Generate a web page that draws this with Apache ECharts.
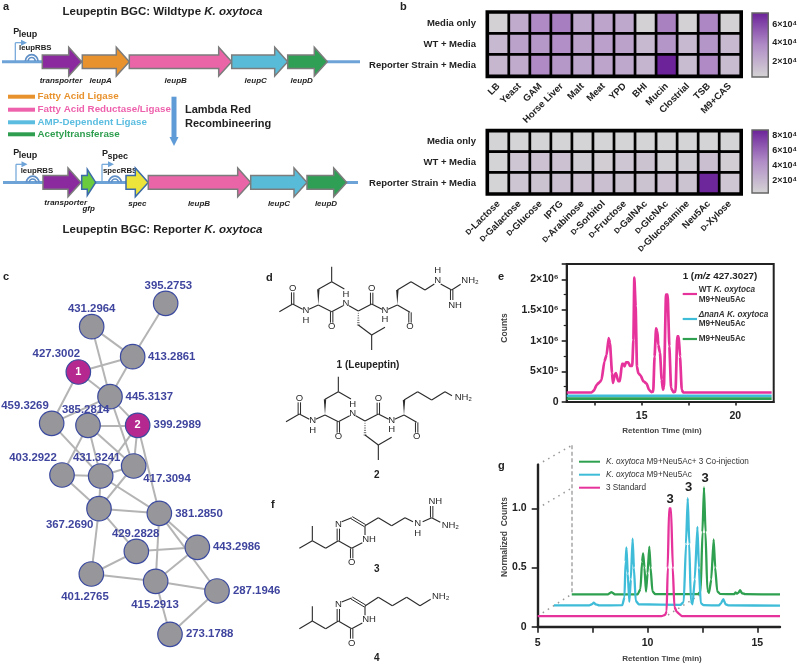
<!DOCTYPE html>
<html><head><meta charset="utf-8">
<script src="https://cdn.jsdelivr.net/npm/echarts@6/dist/echarts.min.js"></script>
<style>html,body{margin:0;padding:0;background:#fff}#c{width:800px;height:667px}</style>
</head><body><div id="c"></div>
<script>
const FONT='"Liberation Sans",Arial,sans-serif';
const DARK='#222';
// ---------- panel b data ----------
const mediaCats=['LB','Yeast','GAM','Horse Liver','Malt','Meat','YPD','BHI','Mucin','Clostrial','TSB','M9+CAS'];
const sugarCats=['D-Lactose','D-Galactose','D-Glucose','IPTG','D-Arabinose','D-Sorbitol','D-Fructose','D-GalNAc','D-GlcNAc','D-Glucosamine','Neu5Ac','D-Xylose'];
const rowNames=['Media only','WT + Media','Reporter Strain + Media'];
const mediaOnly=[5000,23000,38000,42000,24000,26000,24000,5000,41000,5000,39000,5000];
const mediaWT=[16000,27000,32000,36000,27000,28000,27000,16000,33000,16000,33000,16000];
const mediaReporter=[17000,23000,38000,32000,25000,26000,24000,18000,71000,15000,38000,15000];
const sugarOnly=[5000,5000,5000,5000,5000,5000,5000,5000,5000,5000,5000,5000];
const sugarWT=[5000,12000,15000,15000,9000,8000,12000,14000,7000,9000,16000,8000];
const sugarReporter=[5000,13000,14000,16000,15000,16000,14000,14000,15000,14000,85000,12000];
// ---------- panel e data ----------
const eTime=[11,12.33,12.46,12.6,12.78,12.86,13.01,13.13,13.24,13.31,13.42,13.47,13.58,13.63,13.75,13.84,13.95,14.02,14.09,14.16,14.29,14.38,14.5,14.56,14.61,14.68,14.75,14.82,14.95,15.09,15.27,15.39,15.53,15.62,15.69,15.77,15.84,15.89,15.98,16.07,16.14,16.19,16.3,16.39,16.48,16.57,16.69,16.81,16.9,16.98,17.05,17.14,17.22,21.94];
const eWT=[1.55,1.55,1.9,2.8,3.3,3.6,6.6,7.7,10.4,9.6,4.7,3.1,4.6,4.7,3.4,3.4,6.2,6.2,5.8,6.45,6.45,5.9,5.9,10.1,20.3,15.6,5.8,4.7,4.3,3.4,3.0,2.0,1.6,1.7,7.4,12.0,11.5,9.3,8.0,3.6,2.0,2.5,17.5,17.5,9.1,2.3,1.6,1.7,10.7,10.7,7.4,2.0,1.55,1.55];
const eDeltaTime=[11,21.94], eDelta=[1.0,1.0];
const eBlankTime=[11,21.94], eBlank=[0.54,0.54];
// ---------- panel g data ----------
const gPinkT=[5,10.64,10.8,10.87,10.92,10.98,11.07,11.15,11.22,11.33,11.56,16.03];
const gPinkV=[.09,.09,.10,.13,.5,1.0,1.0,.5,.17,.125,.09,.09];
const gCyanT=[5.74,7.35,7.47,7.55,7.65,7.8,8.85,8.95,9,9.04,9.1,9.17,9.24,9.32,9.38,9.46,9.6,11.5,11.65,11.75,11.83,11.9,11.97,12.05,12.15,12.27,12.34,12.42,12.55,13.25,13.35,13.45,13.55,13.7,16.03];
const gCyanV=[.18,.18,.19,.203,.188,.18,.182,.25,.55,.67,.45,.21,.4,.744,.5,.22,.19,.185,.21,.7,1.087,.7,.22,.19,.4,.845,.5,.2,.182,.18,.2,.234,.19,.18,.178];
const gGreenT=[6.55,8.2,8.3,8.35,8.42,8.5,9.55,9.68,9.75,9.8,9.86,9.93,10,10.08,10.14,10.22,10.35,12.3,12.42,12.5,12.57,12.64,12.72,12.8,12.9,13.01,13.08,13.17,13.3,13.95,14,14.08,14.15,14.21,14.3,14.45,16.03];
const gGreenV=[.273,.273,.285,.293,.285,.273,.273,.32,.55,.62,.5,.296,.45,.676,.5,.3,.275,.275,.3,.8,1.177,.8,.31,.285,.4,.738,.5,.3,.277,.275,.29,.28,.29,.31,.283,.275,.273];
// ---------- panel c data ----------
const nodeNames=['395.2753','431.2964','413.2861','427.3002','445.3137','459.3269','385.2814','399.2989','403.2922','431.3241','417.3094','367.2690','381.2850','429.2828','443.2986','401.2765','415.2913','287.1946','273.1788'];
const nodeTags={'427.3002':'1','399.2989':'2'};
const edges=[[0,2],[1,2],[1,4],[2,3],[2,4],[3,4],[3,5],[4,5],[4,7],[4,6],[4,10],[5,9],[6,7],[6,8],[6,9],[6,10],[7,9],[7,10],[7,12],[8,9],[8,11],[9,10],[9,11],[9,12],[10,11],[11,12],[11,13],[11,15],[12,16],[12,14],[12,17],[13,14],[13,15],[14,16],[15,16],[16,17],[16,18],[17,18]];
// ---------- panel a data: gene extents along each construct ----------
const geneRows=[
 {name:'transporter',from:42.3,to:81.7,row:0,kind:'purple'},
 {name:'leupA',from:82.3,to:129.3,row:0,kind:'orange'},
 {name:'leupB',from:129.3,to:231.7,row:0,kind:'pink'},
 {name:'leupC',from:231.7,to:287.7,row:0,kind:'cyan'},
 {name:'leupD',from:287.7,to:327.3,row:0,kind:'green'},
 {name:'transporter',from:43,to:81,row:1,kind:'purple'},
 {name:'gfp',from:81.7,to:95.7,row:1,kind:'lime'},
 {name:'spec',from:126,to:148.3,row:1,kind:'yellow'},
 {name:'leupB',from:148.3,to:250.7,row:1,kind:'pink'},
 {name:'leupC',from:250.7,to:307,row:1,kind:'cyan'},
 {name:'leupD',from:307,to:346.7,row:1,kind:'green'}];

// ---------- layout of the network (reference pixels x3) ----------
const nodeXY=[[497,190],[275,260],[398,350],[235,396],[330,470],[155,550],[264,556],[413,556],[186,705],[302,708],[401,678],[297,806],[478,820],[409,934],[592,922],[274,1002],[467,1024],[651,1053],[510,1183]];
const labelXY=[[505,138],[275,206],[515,351],[169,341],[448,470],[75,497],[257,510],[532,555],[99,654],[290,654],[501,716],[209,856],[597,821],[407,883],[710,922],[255,1071],[465,1094],[770,1053],[629,1183]];
const page=p=>[p[0]/3,240+p[1]/3];

const geneFill={purple:'#8b2a9e',orange:'#e8922e',pink:'#e965a8',cyan:'#58bcd9',green:'#2f9f55',lime:'#6bcb3f',yellow:'#ece33b'};
const rowY=[61.7,182.4];

const g=[];
function T(x,y,text,o={}){
  const st={text,fontFamily:FONT,fontSize:o.size||9,fontWeight:o.weight||'normal',fontStyle:o.style||'normal',fill:o.color||DARK,align:o.align||'left',verticalAlign:'middle'};
  if(o.rich)st.rich=o.rich;
  g.push({type:'text',x,y,rotation:o.rot||0,style:st,silent:true});
}
function Line(x1,y1,x2,y2,o={}){
  g.push({type:'line',shape:{x1,y1,x2,y2},style:{stroke:o.color||'#222',lineWidth:o.w||1.2,lineDash:o.dash||null,lineCap:o.cap||'butt'},silent:true});
}
const boldItalic={i:{fontFamily:FONT,fontStyle:'italic',fontWeight:'bold',fontSize:11.5,fill:DARK}};
// panel letters
[['a',3,7],['b',400,7],['c',3,277],['d',266,278],['e',498,277],['f',271,505],['g',498,466]].forEach(r=>T(r[1],r[2],r[0],{size:11,weight:'bold'}));
// panel a
T(62.5,12,'Leupeptin BGC: Wildtype {i|K. oxytoca}',{size:11.5,weight:'bold',rich:boldItalic});
T(62.5,229.5,'Leupeptin BGC: Reporter {i|K. oxytoca}',{size:11.5,weight:'bold',rich:boldItalic});
const BL='#6ea3d8';
Line(2,61.7,360,61.7,{color:BL,w:3});Line(3,182.4,358,182.4,{color:BL,w:3});
function promoter(x,yb,yt,x2){
  Line(x,yb,x,yt,{color:BL,w:1.2});Line(x,yt,x2-5,yt,{color:BL,w:1.2});
  g.push({type:'polygon',shape:{points:[[x2-6,yt-3],[x2,yt],[x2-6,yt+3]]},style:{fill:BL},silent:true});
}
promoter(15.3,61,42.7,27);promoter(16,182,164.3,27.5);promoter(102,182,164.3,114);
function rbs(cx,cy){
  [6.3,3.5].forEach(r=>g.push({type:'arc',shape:{cx,cy,r,startAngle:Math.PI,endAngle:0},style:{stroke:'#5f8fc6',fill:null,lineWidth:1.7},silent:true}));
}
rbs(31.7,61);rbs(32.7,182.5);rbs(115,182.5);
function pLabel(x,y,sub){T(x,y,'P',{size:9,weight:'bold'});T(x+5.5,y+3,sub,{size:9,weight:'bold'});}
pLabel(13.3,32,'leup');pLabel(13.3,153,'leup');pLabel(102,154,'spec');
T(19,48,'leupRBS',{size:7.8,weight:'bold'});T(20.7,170.8,'leupRBS',{size:7.8,weight:'bold'});T(103,170.8,'specRBS',{size:7.8,weight:'bold'});
[['transporter',61,81],['leupA',100.7,81],['leupB',175.7,81],['leupC',255.7,81],['leupD',301.7,81],['transporter',65.7,203],['gfp',88.7,208.3],['spec',137.3,203.3],['leupB',199,203.3],['leupC',279,203.3],['leupD',326,203.3]].forEach(r=>T(r[1],r[2],r[0],{size:8,weight:'bold',style:'italic',align:'center'}));
[['#e8922e','Fatty Acid Ligase',96.7],['#ee62ad','Fatty Acid Reductase/Ligase',109.7],['#5bbde0','AMP-Dependent Ligase',122.3],['#2f9e4f','Acetyltransferase',134.3]].forEach(r=>{Line(8,r[2],35,r[2],{color:r[0],w:4});T(37.5,r[2],r[1],{size:9.8,weight:'bold',color:r[0]});});
T(185,110,'Lambda Red',{size:11,weight:'bold'});T(185,123.8,'Recombineering',{size:11,weight:'bold'});
Line(174,96.7,174,138,{color:'#5f9bd6',w:5});
g.push({type:'polygon',shape:{points:[[169.5,137],[178.5,137],[174,146]]},style:{fill:'#5f9bd6'},silent:true});

// panels d, f : structures
const CB='#2a2a2a';
const pt=(o,x,y)=>[o[0]+x/3,o[1]+y/3];
function B(o,x1,y1,x2,y2){const a=pt(o,x1,y1),b=pt(o,x2,y2);Line(a[0],a[1],b[0],b[1],{color:CB,w:1.1});}
function DB(o,x1,y1,x2,y2){const a=pt(o,x1,y1),b=pt(o,x2,y2),dx=b[0]-a[0],dy=b[1]-a[1],n=Math.hypot(dx,dy),px=-dy/n*1.2,py=dx/n*1.2;Line(a[0]+px,a[1]+py,b[0]+px,b[1]+py,{color:CB,w:1});Line(a[0]-px,a[1]-py,b[0]-px,b[1]-py,{color:CB,w:1});}
function WD(o,x1,y1,x2,y2){const a=pt(o,x1,y1),b=pt(o,x2,y2);g.push({type:'polygon',shape:{points:[a,[b[0]-1.2,b[1]],[b[0]+1.2,b[1]]]},style:{fill:CB},silent:true});}
function HS(o,x1,y1,x2,y2){const a=pt(o,x1,y1),b=pt(o,x2,y2);for(let i=1;i<=6;i++){const t=i/6,h=.3+1.1*t,x=a[0]+(b[0]-a[0])*t,y=a[1]+(b[1]-a[1])*t;Line(x-h,y,x+h,y,{color:CB,w:.7});}}
function AT(o,x,y,s){const a=pt(o,x,y);T(a[0],a[1],s,{size:9.5,align:'center',color:CB});}
function peptide(o,d){
  const [u,v]=d;
  B(o,88+u,215+v,128+u,192+v);DB(o,128+u,192+v,128+u,157+v);AT(o,128+u,145+v,'O');B(o,128+u,192+v,158+u,208+v);
  AT(o,168+u,210+v,'N');AT(o,168+u,240+v,'H');
  B(o,177+u,208+v,205+u,195+v);WD(o,205+u,195+v,205+u,148+v);B(o,205+u,148+v,245+u,125+v);B(o,245+u,125+v,245+u,80+v);B(o,245+u,125+v,283+u,147+v);
  B(o,205+u,195+v,245+u,215+v);DB(o,245+u,215+v,245+u,248+v);AT(o,245+u,260+v,'O');B(o,245+u,215+v,279+u,197+v);
  AT(o,288+u,190+v,'N');AT(o,288+u,162+v,'H');
  B(o,297+u,197+v,325+u,213+v);HS(o,325+u,213+v,325+u,255+v);B(o,325+u,255+v,365+u,285+v);B(o,365+u,285+v,405+u,262+v);B(o,365+u,285+v,365+u,330+v);
  B(o,325+u,213+v,365+u,192+v);DB(o,365+u,192+v,365+u,158+v);AT(o,365+u,145+v,'O');B(o,365+u,192+v,396+u,208+v);
  AT(o,405+u,210+v,'N');AT(o,405+u,238+v,'H');
  B(o,414+u,208+v,442+u,195+v);WD(o,442+u,195+v,442+u,150+v);
  B(o,442+u,195+v,480+u,217+v);DB(o,480+u,217+v,480+u,248+v);AT(o,480+u,260+v,'O');
}
const oD=[250,240];
peptide(oD,[0,0]);
[[442,150,483,125],[483,125,525,150],[525,150,553,132],[572,132,605,150],[605,150,632,133]].forEach(b=>B(oD,...b));
DB(oD,605,150,605,180);AT(oD,563,122,'N');AT(oD,563,92,'H');AT(oD,660,122,'NH₂');AT(oD,615,195,'NH');
peptide(oD,[20,330]);
[[462,480,503,455],[503,455,545,480],[545,480,585,455],[585,455,606,467]].forEach(b=>B(oD,...b));
AT(oD,640,473,'NH₂');
T(368,365.7,'1 (Leupeptin)',{size:10,weight:'bold',align:'center'});
T(376.7,475,'2',{size:10,weight:'bold',align:'center'});
const oF=[260,470];
function pyraz(v){
  [[118,235,157,212],[157,212,157,168],[157,212,197,235],[197,235,235,212],[235,212,275,235],[245,155,275,143],[315,167,315,195],[307,218,275,235]].forEach(b=>B(oF,b[0],b[1]+v,b[2],b[3]+v));
  DB(oF,235,212+v,235,176+v);DB(oF,275,143+v,315,167+v);DB(oF,275,235+v,275,265+v);
  AT(oF,235,162+v,'N');AT(oF,327,208+v,'NH');AT(oF,275,278+v,'O');
}
pyraz(0);pyraz(241);
[[315,167,355,143],[355,143,395,167],[395,167,435,143],[435,143,459,155],[488,155,515,143],[515,143,541,157]].forEach(b=>B(oF,...b));
DB(oF,515,143,515,108);AT(oF,473,160,'N');AT(oF,473,190,'H');AT(oF,526,93,'NH');AT(oF,571,165,'NH₂');
[[315,408,355,382],[355,382,397,407],[397,407,440,382],[440,382,480,407],[480,407,512,388]].forEach(b=>B(oF,...b));
AT(oF,542,378,'NH₂');
T(376.7,569.3,'3',{size:10,weight:'bold',align:'center'});T(376.7,658.3,'4',{size:10,weight:'bold',align:'center'});

// panel e text
T(504.7,328,'Counts',{size:8.5,color:'#444',align:'center',rot:Math.PI/2,weight:'bold'});
T(662,431,'Retention Time (min)',{size:8,weight:'bold',color:'#444',align:'center'});
T(682.7,276,'1 ({i|m/z} 427.3027)',{size:9.8,weight:'bold',rich:{i:{fontFamily:FONT,fontStyle:'italic',fontWeight:'bold',fontSize:9.8,fill:DARK}}});
const lg8={i:{fontFamily:FONT,fontStyle:'italic',fontWeight:'bold',fontSize:8.2,fill:'#333'}};
const E8={size:8.2,weight:'bold',color:'#333',rich:lg8};
Line(682.7,294,697,294,{color:'#e6329b',w:2.2});Line(682.7,319,697,319,{color:'#3fbcd8',w:2.2});Line(682.7,339,697,339,{color:'#2fa04f',w:2.2});
T(698.7,289.3,'WT {i|K. oxytoca}',E8);T(698.7,299.3,'M9+Neu5Ac',E8);
T(698.7,314.3,'{i|ΔnanA K. oxytoca}',E8);T(698.7,323.7,'M9+Neu5Ac',E8);T(698.7,339,'M9+Neu5Ac',E8);
// panel g text
T(505,537,'Normalized  Counts',{size:8.5,color:'#444',align:'center',rot:Math.PI/2,weight:'bold'});
T(662,659,'Retention Time (min)',{size:8,weight:'bold',color:'#444',align:'center'});
Line(579,461.7,600,461.7,{color:'#2fa04f',w:2});Line(579,474.7,600,474.7,{color:'#3fbcd8',w:2});Line(579,487.7,600,487.7,{color:'#e6329b',w:2});
const lg7={i:{fontFamily:FONT,fontStyle:'italic',fontSize:8.2,fill:'#333'}};
T(606,461.7,'{i|K. oxytoca} M9+Neu5Ac+ 3 Co-injection',{size:8.2,color:'#333',rich:lg7});
T(606,474.7,'{i|K. oxytoca} M9+Neu5Ac',{size:8.2,color:'#333',rich:lg7});
T(606,487.7,'3 Standard',{size:8.2,color:'#333'});
[[670,499.5],[688.7,487.5],[705,478]].forEach(p=>T(p[0],p[1],'3',{size:13,weight:'bold',align:'center'}));
const dot={color:'#999',w:1.5,dash:[1.5,4.5]};
Line(537.7,464.7,572,445.3,dot);Line(537.7,508.3,572,488,dot);Line(537.7,616,572,594,dot);Line(668,615,703,593,dot);
Line(572,445.3,572,594,{color:'#999',w:1.3,dash:[4,2.5]});

// ---------- option ----------
const HEAT=['#d5d5d5','#b08cc6','#6a2098'];
const heatData=rows=>rows.flatMap((r,j)=>r.map((v,i)=>[i,j,v]));
const zip=(a,b)=>a.map((v,i)=>[v,b[i]]);
const smallD=v=>v.replace(/^D-/,'{s|D}-');
const catX=(cats,gi)=>({type:'category',gridIndex:gi,data:cats,axisLine:{show:false},axisTick:{alignWithLabel:true,length:6,lineStyle:{color:'#000',width:3}},splitLine:{show:false},
  axisLabel:{interval:0,rotate:45,margin:9,fontFamily:FONT,fontWeight:'bold',fontSize:9.5,color:DARK,formatter:smallD,rich:{s:{fontSize:7.5,fontWeight:'bold',fontFamily:FONT,color:DARK}}}});
const catY=gi=>({type:'category',gridIndex:gi,data:rowNames,inverse:true,axisLine:{show:false},axisTick:{alignWithLabel:true,length:7,lineStyle:{color:'#000',width:3}},axisLabel:{margin:12,fontFamily:FONT,fontWeight:'bold',fontSize:9.5,color:DARK}});
const hidden=(gi,t,min,max,inv)=>({type:t||'value',gridIndex:gi,show:false,min,max,inverse:!!inv,splitLine:{show:false}});
const sci4={20000:'2×10⁴',40000:'4×10⁴',60000:'6×10⁴',80000:'8×10⁴'};
const cbY=(gi,min,max,vals)=>({type:'value',gridIndex:gi,position:'right',min,max,splitLine:{show:false},axisLine:{show:false},
  axisTick:{show:true,inside:false,length:3,customValues:vals,lineStyle:{color:'#333',width:1.2}},
  axisLabel:{customValues:vals,margin:4,fontFamily:FONT,fontWeight:'bold',fontSize:9,color:DARK,formatter:v=>sci4[v]||''}});
const eLabels={0:'0',500000:'5×10⁵',1000000:'1×10⁶',1500000:'1.5×10⁶',2000000:'2×10⁶'};
const tickLbl={fontFamily:FONT,fontWeight:'bold',fontSize:10.5,color:DARK};
const peak=(name,xa,ya,data,color,w)=>({type:'line',name,xAxisIndex:xa,yAxisIndex:ya,data,showSymbol:false,symbol:'none',smooth:.15,smoothMonotone:'x',lineStyle:{color,width:w},silent:true,clip:false});
const colorBar=(ax,lo,hi)=>({type:'custom',xAxisIndex:ax,yAxisIndex:ax,silent:true,clip:false,z:1,data:[[0,lo,hi]],
  renderItem:(p,api)=>{const a=api.coord([0,api.value(2)]),b=api.coord([1,api.value(1)]);
   return {type:'rect',shape:{x:a[0],y:a[1],width:b[0]-a[0],height:b[1]-a[1]},
    style:{fill:new echarts.graphic.LinearGradient(0,0,0,1,[{offset:0,color:HEAT[2]},{offset:.5,color:HEAT[1]},{offset:1,color:HEAT[0]}]),stroke:'#666',lineWidth:1.4}};}});

const option={
 animation:false,backgroundColor:'#fff',textStyle:{fontFamily:FONT},
 grid:[
  {left:0,top:0,width:800,height:667,containLabel:false},
  {left:488,top:12.7,width:252.5,height:63,show:true,backgroundColor:'#000',borderColor:'#000',borderWidth:5},
  {left:488,top:131.3,width:252.5,height:62,show:true,backgroundColor:'#000',borderColor:'#000',borderWidth:5},
  {left:752,top:13,width:18,height:64},
  {left:752,top:130,width:18,height:63},
  {left:566.7,top:264,width:207,height:138,show:true,borderColor:'#222',borderWidth:2,backgroundColor:'transparent'},
  {left:537.7,top:464.7,width:242.3,height:162}
 ],
 xAxis:[
  hidden(0,'value',0,800),catX(mediaCats,1),catX(sugarCats,2),hidden(3,'value',0,1),hidden(4,'value',0,1),
  {type:'value',gridIndex:5,min:11,max:22.05,splitLine:{show:false},axisLine:{lineStyle:{color:'#222',width:2}},
   axisTick:{customValues:[12.5,15,17.5,20],length:3.5,lineStyle:{color:'#222',width:1.6}},axisLabel:{customValues:[15,20],margin:9,...tickLbl}},
  {type:'value',gridIndex:6,min:5,max:16.03,splitLine:{show:false},axisLine:{onZero:false,lineStyle:{color:'#222',width:2.4}},
   axisTick:{customValues:[5,7.5,10,12.5,15],length:6,lineStyle:{color:'#222',width:1.6}},axisLabel:{customValues:[5,10,15],margin:11,...tickLbl}}
 ],
 yAxis:[
  hidden(0,'value',0,667,true),catY(1),catY(2),cbY(3,3000,72000,[20000,40000,60000]),cbY(4,3600,87600,[20000,40000,60000,80000]),
  {type:'value',gridIndex:5,min:0,max:2250000,interval:500000,splitLine:{show:false},axisLine:{lineStyle:{color:'#222',width:2}},
   axisTick:{length:5,lineStyle:{color:'#222',width:1.6}},minorTick:{show:true,splitNumber:2,length:3,lineStyle:{color:'#222',width:1.2}},
   axisLabel:{margin:8,formatter:v=>eLabels[v]||'',...tickLbl}},
  {type:'value',gridIndex:6,min:0,max:1.37,splitLine:{show:false},axisLine:{show:true,onZero:false,lineStyle:{color:'#222',width:2.4}},
   axisTick:{show:true,customValues:[0,.5,1],length:6,lineStyle:{color:'#222',width:1.6}},axisLabel:{customValues:[0,.5,1],margin:11,formatter:v=>v===0?'0':v.toFixed(1),...tickLbl}}
 ],
 visualMap:[
  {type:'continuous',seriesIndex:0,min:3000,max:72000,show:false,inRange:{color:HEAT}},
  {type:'continuous',seriesIndex:1,min:3600,max:87600,show:false,inRange:{color:HEAT}}
 ],
 graphic:g,
 series:[
  {type:'heatmap',xAxisIndex:1,yAxisIndex:1,data:heatData([mediaOnly,mediaWT,mediaReporter]),itemStyle:{borderColor:'#000',borderWidth:2.7},silent:true},
  {type:'heatmap',xAxisIndex:2,yAxisIndex:2,data:heatData([sugarOnly,sugarWT,sugarReporter]),itemStyle:{borderColor:'#000',borderWidth:2.7},silent:true},
  {type:'custom',xAxisIndex:0,yAxisIndex:0,silent:true,clip:false,data:geneRows.map(d=>[d.from,d.to,d.row]),
   renderItem:(p,api)=>{
    const d=geneRows[p.dataIndex],y=rowY[d.row],a=api.coord([d.from,y]),b=api.coord([d.to,y]);
    const hl=Math.min(13,(b[0]-a[0])*.6),bh=6.8,hh=d.kind==='lime'?13:14.4;
    const blue=d.kind==='lime'||d.kind==='yellow';
    return {type:'polygon',shape:{points:[[a[0],a[1]-bh],[b[0]-hl,a[1]-bh],[b[0]-hl,a[1]-hh],[b[0],a[1]],[b[0]-hl,a[1]+hh],[b[0]-hl,a[1]+bh],[a[0],a[1]+bh]]},
     style:{fill:geneFill[d.kind],stroke:blue?'#3b6aa8':'#7c7c7c',lineWidth:1.5}};
   }},
  {type:'graph',coordinateSystem:'cartesian2d',xAxisIndex:0,yAxisIndex:0,layout:'none',silent:true,z:3,
   data:nodeNames.map((n,i)=>({name:n,value:page(nodeXY[i]),symbolSize:24.5,
     itemStyle:{color:nodeTags[n]?'#b5288f':'#96969b',borderColor:'#3b4a9f',borderWidth:1.2},
     label:{show:!!nodeTags[n],position:'inside',formatter:nodeTags[n]||'',color:'#fff',fontFamily:FONT,fontWeight:'bold',fontSize:11}})),
   links:edges.map(e=>({source:e[0],target:e[1]})),
   lineStyle:{color:'#b4b4b4',width:2,opacity:1,curveness:0},edgeSymbol:['none','none']},
  {type:'scatter',xAxisIndex:0,yAxisIndex:0,silent:true,symbolSize:0,z:4,clip:false,itemStyle:{opacity:1},
   data:nodeNames.map((n,i)=>({name:n,value:page(labelXY[i])})),
   label:{show:true,position:'inside',formatter:p=>p.name,fontFamily:FONT,fontWeight:'bold',fontSize:11.4,color:'#3f459e'}},
  peak('WT K. oxytoca',5,5,zip(eTime,eWT.map(v=>v*1e5)),'#e6329b',2.7),
  peak('ΔnanA',5,5,zip(eDeltaTime,eDelta.map(v=>v*1e5)),'#3fbcd8',2.7),
  peak('M9',5,5,zip(eBlankTime,eBlank.map(v=>v*1e5)),'#2fa04f',2.7),
  peak('Co-injection',6,6,zip(gGreenT,gGreenV),'#2fa04f',2.3),
  peak('K. oxytoca M9+Neu5Ac',6,6,zip(gCyanT,gCyanV),'#3fbcd8',2.3),
  peak('3 Standard',6,6,zip(gPinkT,gPinkV),'#e6329b',2.3),
  colorBar(3,3000,72000),
  colorBar(4,3600,87600)
 ]
};
const chart=echarts.init(document.getElementById('c'),null,{renderer:'canvas',width:800,height:667});
chart.setOption(option);
</script></body></html>
